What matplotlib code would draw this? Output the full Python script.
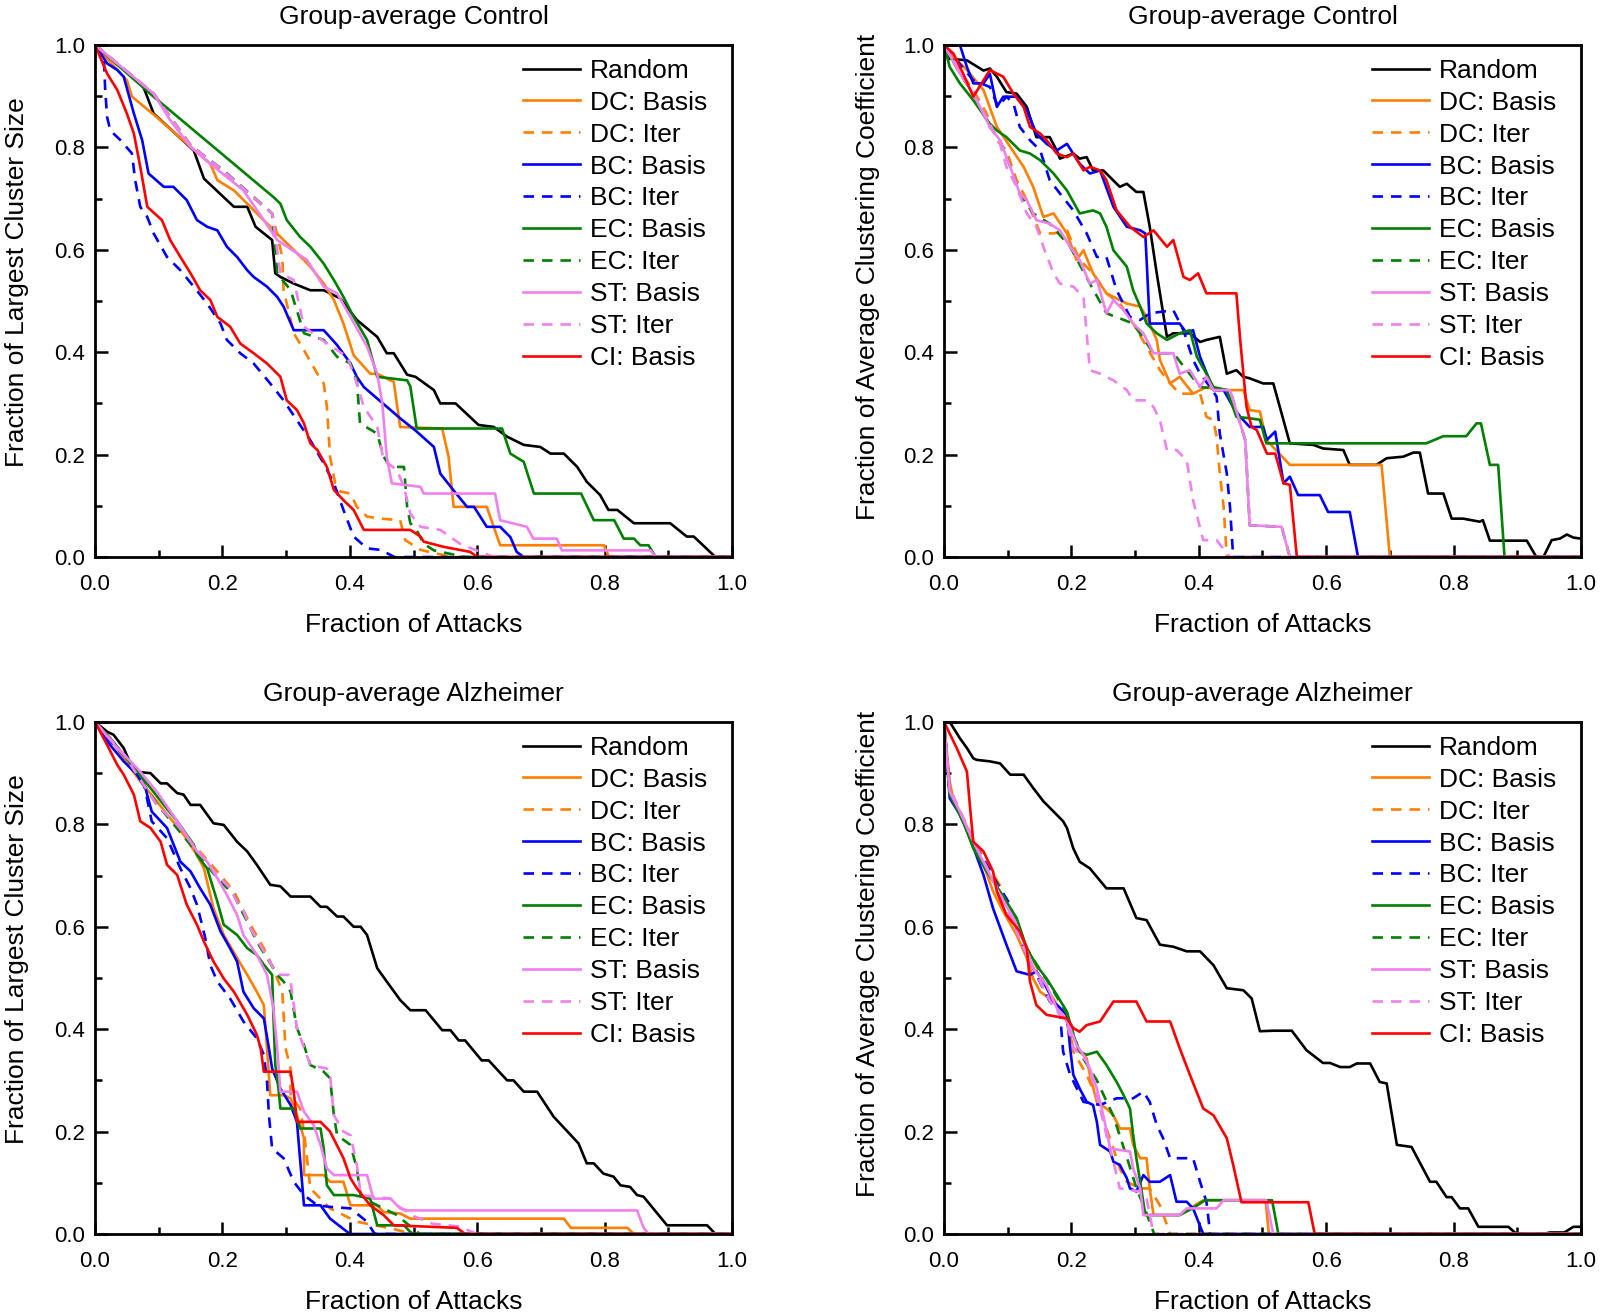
import matplotlib
matplotlib.use('Agg')
import matplotlib.pyplot as plt
from matplotlib.ticker import MultipleLocator, FormatStrFormatter

plt.rcParams['font.family'] = ['Liberation Sans', 'DejaVu Sans']

# legend entries (plot order)
labels = ['Random', 'DC: Basis', 'DC: Iter', 'BC: Basis', 'BC: Iter',
          'EC: Basis', 'EC: Iter', 'ST: Basis', 'ST: Iter', 'CI: Basis']
colors = ['black', '#FF7F00', '#FF7F00', '#0000FF', '#0000FF',
          '#008000', '#008000', '#F080F0', '#F080F0', '#FF0000']
dashed = [False, False, True, False, True, False, True, False, True, False]

titles = ['Group-average Control', 'Group-average Control',
          'Group-average Alzheimer', 'Group-average Alzheimer']
ylabels = ['Fraction of Largest Cluster Size', 'Fraction of Average Clustering Coefficient',
           'Fraction of Largest Cluster Size', 'Fraction of Average Clustering Coefficient']
xlabel = 'Fraction of Attacks'

# ---------------- Control, largest cluster size ----------------
ctrl_lcs_random = [(0, 1), (0.076, 0.918), (0.092, 0.866), (0.155, 0.794), (0.171, 0.739), (0.218, 0.684),
                   (0.239, 0.684), (0.252, 0.645), (0.278, 0.619), (0.283, 0.554), (0.291, 0.547),
                   (0.312, 0.534), (0.338, 0.521), (0.359, 0.521), (0.385, 0.505), (0.411, 0.463),
                   (0.443, 0.430), (0.458, 0.398), (0.469, 0.398), (0.490, 0.356), (0.503, 0.352),
                   (0.532, 0.326), (0.542, 0.300), (0.566, 0.300), (0.602, 0.258), (0.626, 0.254),
                   (0.647, 0.235), (0.673, 0.219), (0.699, 0.215), (0.715, 0.202), (0.736, 0.202),
                   (0.757, 0.176), (0.772, 0.147), (0.793, 0.121), (0.806, 0.092), (0.820, 0.092),
                   (0.846, 0.066), (0.903, 0.066), (0.929, 0.040), (0.940, 0.040), (0.974, 0.0), (1, 0)]
ctrl_lcs_dc_basis = [(0, 1), (0.050, 0.931), (0.058, 0.899), (0.097, 0.859), (0.150, 0.801), (0.181, 0.768),
                     (0.192, 0.736), (0.218, 0.716), (0.239, 0.690), (0.275, 0.645), (0.296, 0.619),
                     (0.328, 0.580), (0.338, 0.567), (0.359, 0.534), (0.375, 0.502), (0.390, 0.456),
                     (0.406, 0.394), (0.432, 0.358), (0.443, 0.358), (0.469, 0.342), (0.479, 0.254),
                     (0.545, 0.251), (0.555, 0.196), (0.563, 0.098), (0.615, 0.098), (0.636, 0.023),
                     (0.799, 0.023), (0.807, 0.0), (1, 0)]
ctrl_lcs_dc_iter = [(0, 1), (0.092, 0.905), (0.150, 0.805), (0.200, 0.755), (0.250, 0.700), (0.278, 0.671),
                    (0.294, 0.586), (0.296, 0.521), (0.312, 0.437), (0.328, 0.404), (0.349, 0.358),
                    (0.359, 0.339), (0.364, 0.293), (0.369, 0.196), (0.377, 0.144), (0.385, 0.128),
                    (0.401, 0.124), (0.411, 0.098), (0.427, 0.079), (0.448, 0.075), (0.479, 0.072),
                    (0.487, 0.033), (0.511, 0.014), (0.560, 0.0), (1, 0)]
ctrl_lcs_bc_basis = [(0, 1), (0.019, 0.964), (0.035, 0.951), (0.045, 0.938), (0.061, 0.866), (0.074, 0.814),
                     (0.084, 0.749), (0.108, 0.723), (0.123, 0.723), (0.144, 0.697), (0.160, 0.658),
                     (0.176, 0.645), (0.192, 0.638), (0.207, 0.606), (0.223, 0.586), (0.239, 0.560),
                     (0.249, 0.547), (0.270, 0.528), (0.286, 0.508), (0.296, 0.489), (0.312, 0.443),
                     (0.359, 0.443), (0.380, 0.414), (0.401, 0.378), (0.411, 0.352), (0.422, 0.332),
                     (0.479, 0.271), (0.505, 0.245), (0.532, 0.215), (0.542, 0.163), (0.563, 0.130),
                     (0.584, 0.098), (0.595, 0.098), (0.615, 0.059), (0.636, 0.059), (0.652, 0.039),
                     (0.662, 0.010), (0.673, 0.0), (1, 0)]
ctrl_lcs_bc_iter = [(0, 1), (0.014, 0.970), (0.016, 0.911), (0.019, 0.859), (0.024, 0.833), (0.040, 0.814),
                    (0.058, 0.788), (0.063, 0.736), (0.071, 0.684), (0.082, 0.664), (0.092, 0.632),
                    (0.113, 0.586), (0.134, 0.560), (0.155, 0.528), (0.176, 0.495), (0.197, 0.456),
                    (0.207, 0.424), (0.228, 0.398), (0.249, 0.378), (0.275, 0.339), (0.296, 0.306),
                    (0.317, 0.267), (0.338, 0.228), (0.359, 0.183), (0.375, 0.144), (0.390, 0.092),
                    (0.406, 0.040), (0.427, 0.017), (0.448, 0.014), (0.464, 0.004), (0.470, 0.0), (1, 0)]
ctrl_lcs_ec_basis = [(0, 1), (0.092, 0.899), (0.280, 0.703), (0.291, 0.690), (0.301, 0.658), (0.322, 0.625),
                     (0.338, 0.606), (0.359, 0.573), (0.375, 0.541), (0.390, 0.508), (0.406, 0.469),
                     (0.427, 0.424), (0.443, 0.352), (0.490, 0.345), (0.495, 0.333), (0.505, 0.251),
                     (0.639, 0.251), (0.652, 0.202), (0.673, 0.186), (0.689, 0.124), (0.763, 0.124),
                     (0.783, 0.072), (0.815, 0.072), (0.830, 0.036), (0.846, 0.036), (0.856, 0.023),
                     (0.869, 0.023), (0.880, 0.0), (1, 0)]
ctrl_lcs_ec_iter = [(0, 1), (0.092, 0.905), (0.150, 0.803), (0.200, 0.757), (0.250, 0.702), (0.278, 0.671),
                    (0.286, 0.554), (0.307, 0.521), (0.328, 0.437), (0.359, 0.424), (0.380, 0.391),
                    (0.401, 0.378), (0.411, 0.345), (0.416, 0.261), (0.443, 0.241), (0.453, 0.196),
                    (0.464, 0.176), (0.485, 0.176), (0.490, 0.098), (0.495, 0.066), (0.505, 0.052),
                    (0.516, 0.026), (0.532, 0.013), (0.581, 0.0), (1, 0)]
ctrl_lcs_st_basis = [(0, 1), (0.092, 0.905), (0.118, 0.853), (0.150, 0.801), (0.181, 0.768), (0.233, 0.716),
                     (0.265, 0.658), (0.286, 0.619), (0.333, 0.580), (0.359, 0.528), (0.380, 0.515),
                     (0.401, 0.469), (0.427, 0.411), (0.443, 0.358), (0.451, 0.300), (0.458, 0.196),
                     (0.466, 0.144), (0.511, 0.137), (0.516, 0.124), (0.628, 0.124), (0.636, 0.072),
                     (0.678, 0.059), (0.688, 0.036), (0.725, 0.036), (0.733, 0.013), (0.872, 0.013),
                     (0.880, 0.0), (1, 0)]
ctrl_lcs_st_iter = [(0, 1), (0.092, 0.905), (0.150, 0.804), (0.200, 0.756), (0.250, 0.701), (0.278, 0.671),
                    (0.291, 0.554), (0.312, 0.541), (0.328, 0.450), (0.349, 0.430), (0.380, 0.404),
                    (0.396, 0.391), (0.411, 0.339), (0.422, 0.293), (0.443, 0.254), (0.453, 0.189),
                    (0.474, 0.170), (0.485, 0.137), (0.495, 0.085), (0.511, 0.059), (0.542, 0.053),
                    (0.573, 0.026), (0.599, 0.013), (0.626, 0.0), (1, 0)]
ctrl_lcs_ci_basis = [(0, 1), (0.019, 0.944), (0.035, 0.912), (0.050, 0.866), (0.061, 0.827), (0.071, 0.762),
                     (0.082, 0.684), (0.105, 0.658), (0.118, 0.619), (0.134, 0.586), (0.150, 0.554),
                     (0.165, 0.521), (0.181, 0.502), (0.192, 0.469), (0.212, 0.450), (0.228, 0.417),
                     (0.249, 0.398), (0.270, 0.378), (0.291, 0.352), (0.301, 0.306), (0.317, 0.287),
                     (0.328, 0.261), (0.338, 0.222), (0.349, 0.209), (0.364, 0.176), (0.375, 0.131),
                     (0.390, 0.111), (0.406, 0.092), (0.422, 0.053), (0.495, 0.053), (0.511, 0.040),
                     (0.516, 0.030), (0.547, 0.020), (0.589, 0.010), (0.600, 0.0), (1, 0)]

# ---------------- Control, average clustering coefficient ----------------
ctrl_acc_random = [(0, 1), (0.009, 0.973), (0.036, 0.970), (0.062, 0.950), (0.072, 0.954), (0.083, 0.938),
                   (0.098, 0.908), (0.114, 0.905), (0.130, 0.879), (0.145, 0.820), (0.166, 0.820),
                   (0.177, 0.794), (0.182, 0.778), (0.203, 0.788), (0.213, 0.778), (0.224, 0.781),
                   (0.234, 0.755), (0.250, 0.755), (0.276, 0.723), (0.287, 0.729), (0.302, 0.713),
                   (0.313, 0.713), (0.323, 0.645), (0.334, 0.554), (0.350, 0.430), (0.360, 0.437),
                   (0.386, 0.437), (0.402, 0.420), (0.412, 0.424), (0.433, 0.430), (0.444, 0.358),
                   (0.459, 0.365), (0.470, 0.352), (0.480, 0.349), (0.501, 0.339), (0.517, 0.339),
                   (0.543, 0.222), (0.580, 0.219), (0.595, 0.212), (0.627, 0.209), (0.637, 0.180),
                   (0.679, 0.180), (0.695, 0.193), (0.721, 0.196), (0.737, 0.204), (0.747, 0.204),
                   (0.760, 0.124), (0.784, 0.124), (0.797, 0.075), (0.815, 0.075), (0.841, 0.069),
                   (0.846, 0.072), (0.857, 0.032), (0.915, 0.032), (0.930, 0.0), (0.941, 0.0),
                   (0.954, 0.033), (0.967, 0.036), (0.978, 0.044), (0.988, 0.038), (1.0, 0.036)]
ctrl_acc_dc_basis = [(0, 1), (0.015, 0.977), (0.036, 0.951), (0.062, 0.912), (0.083, 0.840), (0.104, 0.801),
                     (0.125, 0.762), (0.140, 0.723), (0.156, 0.664), (0.172, 0.671), (0.193, 0.632),
                     (0.208, 0.580), (0.219, 0.599), (0.234, 0.554), (0.255, 0.515), (0.287, 0.495),
                     (0.308, 0.489), (0.318, 0.469), (0.334, 0.424), (0.339, 0.385), (0.355, 0.339),
                     (0.370, 0.352), (0.391, 0.319), (0.412, 0.332), (0.428, 0.326), (0.470, 0.326),
                     (0.480, 0.287), (0.496, 0.284), (0.506, 0.229), (0.543, 0.180), (0.687, 0.180),
                     (0.700, 0.0), (1, 0)]
ctrl_acc_dc_iter = [(0, 1), (0.020, 0.957), (0.046, 0.912), (0.067, 0.866), (0.083, 0.814), (0.098, 0.794),
                    (0.114, 0.736), (0.130, 0.697), (0.151, 0.632), (0.172, 0.632), (0.193, 0.638),
                    (0.213, 0.580), (0.234, 0.554), (0.255, 0.515), (0.276, 0.495), (0.297, 0.456),
                    (0.318, 0.411), (0.339, 0.365), (0.355, 0.339), (0.370, 0.319), (0.402, 0.319),
                    (0.412, 0.274), (0.423, 0.267), (0.428, 0.235), (0.433, 0.163), (0.439, 0.098),
                    (0.444, 0.0), (1, 0)]
ctrl_acc_bc_basis = [(0, 1), (0.025, 1.0), (0.036, 0.957), (0.046, 0.925), (0.062, 0.925), (0.072, 0.944),
                     (0.083, 0.879), (0.093, 0.899), (0.114, 0.899), (0.130, 0.872), (0.145, 0.827),
                     (0.161, 0.807), (0.177, 0.794), (0.193, 0.807), (0.213, 0.768), (0.229, 0.749),
                     (0.245, 0.755), (0.266, 0.684), (0.287, 0.645), (0.308, 0.638), (0.316, 0.632),
                     (0.323, 0.456), (0.370, 0.456), (0.381, 0.437), (0.391, 0.443), (0.402, 0.391),
                     (0.423, 0.326), (0.439, 0.326), (0.454, 0.293), (0.465, 0.274), (0.480, 0.254),
                     (0.501, 0.254), (0.507, 0.229), (0.520, 0.245), (0.533, 0.144), (0.543, 0.157),
                     (0.556, 0.121), (0.590, 0.121), (0.603, 0.088), (0.637, 0.088), (0.650, 0.0), (1, 0)]
ctrl_acc_bc_iter = [(0, 1), (0.020, 0.970), (0.046, 0.931), (0.072, 0.918), (0.085, 0.879), (0.098, 0.899),
                    (0.109, 0.886), (0.119, 0.840), (0.135, 0.814), (0.151, 0.794), (0.166, 0.736),
                    (0.182, 0.710), (0.203, 0.677), (0.224, 0.632), (0.240, 0.586), (0.255, 0.586),
                    (0.271, 0.521), (0.292, 0.469), (0.308, 0.463), (0.323, 0.476), (0.360, 0.482),
                    (0.376, 0.443), (0.391, 0.385), (0.402, 0.358), (0.418, 0.332), (0.428, 0.313),
                    (0.433, 0.241), (0.444, 0.163), (0.449, 0.098), (0.454, 0.0), (1, 0)]
ctrl_acc_ec_basis = [(0, 1), (0.009, 0.957), (0.025, 0.925), (0.046, 0.892), (0.072, 0.846), (0.083, 0.833),
                     (0.098, 0.820), (0.119, 0.794), (0.135, 0.788), (0.151, 0.775), (0.172, 0.749),
                     (0.193, 0.716), (0.213, 0.671), (0.234, 0.677), (0.245, 0.671), (0.255, 0.645),
                     (0.266, 0.599), (0.287, 0.567), (0.297, 0.521), (0.308, 0.489), (0.318, 0.456),
                     (0.334, 0.437), (0.350, 0.424), (0.370, 0.437), (0.386, 0.443), (0.397, 0.391),
                     (0.412, 0.358), (0.423, 0.332), (0.444, 0.326), (0.459, 0.274), (0.480, 0.271),
                     (0.496, 0.268), (0.506, 0.222), (0.757, 0.222), (0.784, 0.236), (0.820, 0.236),
                     (0.836, 0.261), (0.843, 0.261), (0.857, 0.180), (0.870, 0.180), (0.880, 0.0), (1, 0)]
ctrl_acc_ec_iter = [(0, 1), (0.025, 0.944), (0.046, 0.905), (0.072, 0.840), (0.088, 0.814), (0.104, 0.762),
                    (0.119, 0.710), (0.140, 0.671), (0.166, 0.651), (0.198, 0.606), (0.229, 0.534),
                    (0.255, 0.476), (0.297, 0.456), (0.329, 0.398), (0.360, 0.398), (0.402, 0.332),
                    (0.449, 0.326), (0.473, 0.228), (0.480, 0.062), (0.530, 0.059), (0.543, 0.0), (1, 0)]
ctrl_acc_st_basis = [(0, 1), (0.025, 0.944), (0.046, 0.905), (0.072, 0.840), (0.088, 0.814), (0.104, 0.762),
                     (0.119, 0.710), (0.130, 0.697), (0.140, 0.671), (0.145, 0.658), (0.166, 0.651),
                     (0.182, 0.638), (0.198, 0.606), (0.213, 0.580), (0.229, 0.534), (0.240, 0.541),
                     (0.255, 0.476), (0.266, 0.502), (0.282, 0.482), (0.297, 0.456), (0.313, 0.437),
                     (0.329, 0.398), (0.360, 0.398), (0.370, 0.358), (0.386, 0.365), (0.402, 0.332),
                     (0.412, 0.352), (0.423, 0.326), (0.449, 0.326), (0.465, 0.261), (0.473, 0.228),
                     (0.480, 0.062), (0.530, 0.059), (0.543, 0.0), (1, 0)]
ctrl_acc_st_iter = [(0, 1), (0.046, 0.905), (0.072, 0.846), (0.088, 0.807), (0.098, 0.762), (0.114, 0.723),
                    (0.130, 0.671), (0.145, 0.645), (0.156, 0.606), (0.172, 0.554), (0.182, 0.534),
                    (0.203, 0.528), (0.219, 0.508), (0.224, 0.437), (0.229, 0.365), (0.245, 0.358),
                    (0.266, 0.345), (0.287, 0.326), (0.297, 0.306), (0.318, 0.306), (0.329, 0.293),
                    (0.339, 0.267), (0.350, 0.209), (0.365, 0.209), (0.381, 0.189), (0.391, 0.111),
                    (0.407, 0.033), (0.428, 0.033), (0.444, 0.007), (0.449, 0.0), (1, 0)]
ctrl_acc_ci_basis = [(0, 1), (0.015, 0.983), (0.030, 0.944), (0.046, 0.899), (0.072, 0.951), (0.093, 0.938),
                     (0.109, 0.905), (0.125, 0.879), (0.135, 0.840), (0.151, 0.827), (0.161, 0.814),
                     (0.177, 0.788), (0.193, 0.781), (0.203, 0.788), (0.219, 0.755), (0.229, 0.762),
                     (0.245, 0.755), (0.255, 0.736), (0.271, 0.677), (0.292, 0.645), (0.313, 0.625),
                     (0.329, 0.638), (0.350, 0.606), (0.360, 0.619), (0.376, 0.547), (0.386, 0.541),
                     (0.399, 0.554), (0.412, 0.515), (0.459, 0.515), (0.465, 0.424), (0.475, 0.293),
                     (0.483, 0.254), (0.491, 0.248), (0.507, 0.202), (0.520, 0.202), (0.533, 0.144),
                     (0.543, 0.141), (0.554, 0.0), (1, 0)]

# ---------------- Alzheimer, largest cluster size ----------------
alz_lcs_random = [(0, 1), (0.019, 0.981), (0.029, 0.975), (0.045, 0.949), (0.061, 0.903), (0.087, 0.900),
                  (0.103, 0.880), (0.113, 0.880), (0.129, 0.861), (0.139, 0.858), (0.150, 0.838),
                  (0.165, 0.838), (0.186, 0.802), (0.202, 0.799), (0.223, 0.766), (0.239, 0.747),
                  (0.254, 0.721), (0.275, 0.682), (0.291, 0.679), (0.307, 0.659), (0.338, 0.659),
                  (0.354, 0.639), (0.364, 0.639), (0.380, 0.620), (0.390, 0.620), (0.406, 0.600),
                  (0.417, 0.600), (0.427, 0.584), (0.443, 0.519), (0.458, 0.493), (0.479, 0.457),
                  (0.495, 0.437), (0.519, 0.437), (0.545, 0.398), (0.558, 0.398), (0.571, 0.378),
                  (0.581, 0.378), (0.607, 0.339), (0.618, 0.339), (0.647, 0.300), (0.657, 0.300),
                  (0.673, 0.278), (0.694, 0.278), (0.720, 0.229), (0.759, 0.177), (0.772, 0.138),
                  (0.783, 0.138), (0.798, 0.118), (0.814, 0.112), (0.825, 0.095), (0.840, 0.092),
                  (0.851, 0.076), (0.861, 0.073), (0.898, 0.017), (0.961, 0.017), (0.974, 0.0), (1, 0)]
alz_lcs_dc_basis = [(0, 1), (0.024, 0.968), (0.045, 0.929), (0.071, 0.884), (0.097, 0.845), (0.118, 0.812),
                    (0.139, 0.780), (0.160, 0.740), (0.171, 0.714), (0.186, 0.636), (0.202, 0.584),
                    (0.223, 0.539), (0.239, 0.506), (0.254, 0.473), (0.265, 0.447), (0.270, 0.363),
                    (0.275, 0.271), (0.296, 0.271), (0.307, 0.265), (0.317, 0.232), (0.328, 0.187),
                    (0.328, 0.115), (0.359, 0.115), (0.369, 0.102), (0.390, 0.102), (0.401, 0.056),
                    (0.443, 0.056), (0.453, 0.043), (0.479, 0.040), (0.495, 0.030), (0.736, 0.030),
                    (0.747, 0.012), (0.836, 0.012), (0.846, 0.0), (1, 0)]
alz_lcs_dc_iter = [(0, 1), (0.045, 0.936), (0.097, 0.838), (0.129, 0.799), (0.160, 0.753), (0.192, 0.708),
                   (0.218, 0.669), (0.244, 0.604), (0.265, 0.558), (0.280, 0.519), (0.286, 0.499),
                   (0.294, 0.473), (0.299, 0.363), (0.307, 0.323), (0.307, 0.271), (0.322, 0.245),
                   (0.328, 0.200), (0.338, 0.089), (0.369, 0.050), (0.411, 0.024), (0.464, 0.011),
                   (0.500, 0.0), (1, 0)]
alz_lcs_bc_basis = [(0, 1), (0.019, 0.962), (0.045, 0.923), (0.066, 0.897), (0.079, 0.871), (0.089, 0.825),
                    (0.113, 0.793), (0.134, 0.727), (0.150, 0.708), (0.165, 0.675), (0.181, 0.643),
                    (0.197, 0.591), (0.212, 0.558), (0.223, 0.532), (0.233, 0.473), (0.249, 0.441),
                    (0.265, 0.421), (0.273, 0.363), (0.278, 0.323), (0.291, 0.284), (0.307, 0.252),
                    (0.317, 0.219), (0.328, 0.056), (0.354, 0.056), (0.369, 0.030), (0.396, 0.004),
                    (0.401, 0.0), (1, 0)]
alz_lcs_bc_iter = [(0, 1), (0.024, 0.962), (0.055, 0.923), (0.076, 0.884), (0.089, 0.806), (0.113, 0.773),
                   (0.134, 0.714), (0.150, 0.675), (0.160, 0.643), (0.168, 0.604), (0.173, 0.578),
                   (0.181, 0.525), (0.192, 0.493), (0.212, 0.460), (0.233, 0.415), (0.254, 0.382),
                   (0.265, 0.350), (0.270, 0.297), (0.273, 0.232), (0.278, 0.167), (0.296, 0.148),
                   (0.312, 0.102), (0.328, 0.076), (0.349, 0.056), (0.369, 0.053), (0.401, 0.050),
                   (0.427, 0.024), (0.437, 0.004), (0.440, 0.0), (1, 0)]
alz_lcs_ec_basis = [(0, 1), (0.024, 0.968), (0.045, 0.936), (0.066, 0.903), (0.087, 0.871), (0.108, 0.838),
                    (0.129, 0.806), (0.155, 0.760), (0.160, 0.740), (0.176, 0.714), (0.192, 0.649),
                    (0.202, 0.604), (0.223, 0.584), (0.239, 0.558), (0.254, 0.545), (0.265, 0.526),
                    (0.278, 0.506), (0.280, 0.428), (0.283, 0.330), (0.288, 0.284), (0.291, 0.245),
                    (0.312, 0.245), (0.322, 0.206), (0.354, 0.206), (0.359, 0.167), (0.364, 0.095),
                    (0.375, 0.076), (0.406, 0.076), (0.432, 0.069), (0.443, 0.017), (0.485, 0.017),
                    (0.495, 0.004), (0.500, 0.0), (1, 0)]
alz_lcs_ec_iter = [(0, 1), (0.045, 0.936), (0.097, 0.840), (0.150, 0.760), (0.171, 0.727), (0.192, 0.695),
                   (0.218, 0.662), (0.228, 0.636), (0.239, 0.610), (0.254, 0.571), (0.270, 0.539),
                   (0.286, 0.506), (0.296, 0.493), (0.307, 0.473), (0.317, 0.402), (0.328, 0.369),
                   (0.338, 0.330), (0.359, 0.317), (0.369, 0.304), (0.375, 0.232), (0.380, 0.193),
                   (0.401, 0.174), (0.411, 0.128), (0.417, 0.076), (0.432, 0.063), (0.464, 0.043),
                   (0.474, 0.037), (0.490, 0.020), (0.510, 0.0), (1, 0)]
alz_lcs_st_basis = [(0, 1), (0.035, 0.949), (0.066, 0.910), (0.097, 0.864), (0.129, 0.806), (0.160, 0.747),
                    (0.176, 0.727), (0.192, 0.695), (0.207, 0.662), (0.223, 0.623), (0.233, 0.584),
                    (0.254, 0.545), (0.270, 0.506), (0.280, 0.441), (0.286, 0.363), (0.291, 0.278),
                    (0.317, 0.278), (0.328, 0.239), (0.343, 0.213), (0.354, 0.174), (0.364, 0.128),
                    (0.375, 0.115), (0.427, 0.115), (0.437, 0.069), (0.464, 0.069), (0.479, 0.050),
                    (0.490, 0.046), (0.851, 0.046), (0.861, 0.013), (0.869, 0.0), (1, 0)]
alz_lcs_st_iter = [(0, 1), (0.045, 0.937), (0.097, 0.838), (0.129, 0.799), (0.150, 0.766), (0.171, 0.734),
                   (0.192, 0.701), (0.212, 0.675), (0.223, 0.649), (0.233, 0.630), (0.244, 0.597),
                   (0.265, 0.552), (0.280, 0.519), (0.291, 0.506), (0.304, 0.506), (0.307, 0.493),
                   (0.317, 0.402), (0.338, 0.330), (0.364, 0.323), (0.369, 0.310), (0.375, 0.232),
                   (0.390, 0.200), (0.401, 0.193), (0.411, 0.135), (0.417, 0.076), (0.464, 0.069),
                   (0.474, 0.056), (0.500, 0.035), (0.530, 0.020), (0.570, 0.015), (0.600, 0.0), (1, 0)]
alz_lcs_ci_basis = [(0, 1), (0.019, 0.955), (0.035, 0.916), (0.045, 0.897), (0.061, 0.858), (0.071, 0.806),
                    (0.087, 0.793), (0.103, 0.766), (0.113, 0.721), (0.129, 0.701), (0.144, 0.643),
                    (0.160, 0.604), (0.171, 0.571), (0.186, 0.532), (0.202, 0.499), (0.218, 0.473),
                    (0.239, 0.428), (0.254, 0.389), (0.260, 0.363), (0.265, 0.317), (0.307, 0.317),
                    (0.312, 0.278), (0.317, 0.219), (0.354, 0.219), (0.369, 0.200), (0.390, 0.148),
                    (0.401, 0.109), (0.411, 0.089), (0.432, 0.056), (0.453, 0.037), (0.469, 0.017),
                    (0.568, 0.012), (0.581, 0.0), (1, 0)]

# ---------------- Alzheimer, average clustering coefficient ----------------
alz_acc_random = [(0, 1), (0.009, 1.0), (0.025, 0.968), (0.036, 0.949), (0.046, 0.929), (0.051, 0.926),
                  (0.072, 0.923), (0.088, 0.919), (0.104, 0.897), (0.125, 0.897), (0.140, 0.871),
                  (0.156, 0.845), (0.172, 0.825), (0.187, 0.806), (0.193, 0.793), (0.203, 0.753),
                  (0.213, 0.727), (0.229, 0.714), (0.255, 0.675), (0.282, 0.675), (0.302, 0.617),
                  (0.318, 0.613), (0.339, 0.565), (0.360, 0.561), (0.381, 0.552), (0.402, 0.552),
                  (0.423, 0.525), (0.444, 0.480), (0.470, 0.476), (0.483, 0.460), (0.496, 0.396),
                  (0.517, 0.397), (0.546, 0.397), (0.569, 0.359), (0.595, 0.334), (0.606, 0.334),
                  (0.622, 0.326), (0.637, 0.326), (0.648, 0.333), (0.669, 0.333), (0.684, 0.297),
                  (0.695, 0.294), (0.711, 0.174), (0.734, 0.170), (0.763, 0.102), (0.773, 0.102),
                  (0.789, 0.072), (0.797, 0.072), (0.810, 0.050), (0.823, 0.050), (0.839, 0.014),
                  (0.886, 0.014), (0.899, 0.0), (0.941, 0.0), (0.951, 0.003), (0.974, 0.003),
                  (0.988, 0.014), (1.0, 0.014)]
alz_acc_dc_basis = [(0, 1), (0.009, 0.884), (0.015, 0.845), (0.030, 0.812), (0.046, 0.766), (0.062, 0.721),
                    (0.077, 0.669), (0.093, 0.630), (0.114, 0.584), (0.130, 0.539), (0.140, 0.499),
                    (0.151, 0.473), (0.166, 0.460), (0.182, 0.441), (0.193, 0.415), (0.203, 0.363),
                    (0.213, 0.356), (0.224, 0.343), (0.229, 0.311), (0.240, 0.258), (0.255, 0.245),
                    (0.266, 0.232), (0.276, 0.206), (0.292, 0.206), (0.297, 0.174), (0.308, 0.148),
                    (0.318, 0.148), (0.323, 0.089), (0.329, 0.037), (0.370, 0.037), (0.386, 0.050),
                    (0.407, 0.066), (0.505, 0.066), (0.510, 0.0), (1, 0)]
alz_acc_dc_iter = [(0, 1), (0.009, 0.870), (0.046, 0.770), (0.088, 0.680), (0.130, 0.560), (0.166, 0.470),
                   (0.193, 0.420), (0.203, 0.356), (0.224, 0.311), (0.240, 0.265), (0.255, 0.206),
                   (0.266, 0.167), (0.276, 0.128), (0.287, 0.102), (0.308, 0.089), (0.323, 0.089),
                   (0.339, 0.056), (0.355, 0.0), (1, 0)]
alz_acc_bc_basis = [(0, 1), (0.009, 0.851), (0.025, 0.819), (0.041, 0.773), (0.062, 0.701), (0.077, 0.636),
                    (0.098, 0.565), (0.114, 0.513), (0.135, 0.506), (0.145, 0.513), (0.156, 0.493),
                    (0.172, 0.454), (0.193, 0.428), (0.198, 0.363), (0.203, 0.311), (0.213, 0.284),
                    (0.224, 0.258), (0.234, 0.252), (0.240, 0.219), (0.245, 0.174), (0.261, 0.161),
                    (0.266, 0.141), (0.276, 0.135), (0.287, 0.109), (0.292, 0.089), (0.302, 0.083),
                    (0.313, 0.115), (0.323, 0.102), (0.339, 0.102), (0.355, 0.115), (0.365, 0.063),
                    (0.381, 0.063), (0.391, 0.050), (0.407, 0.0), (1, 0)]
alz_acc_bc_iter = [(0, 1), (0.009, 0.864), (0.046, 0.766), (0.088, 0.675), (0.104, 0.643), (0.114, 0.597),
                   (0.130, 0.545), (0.145, 0.506), (0.166, 0.454), (0.182, 0.434), (0.187, 0.356),
                   (0.198, 0.311), (0.219, 0.258), (0.245, 0.252), (0.271, 0.265), (0.297, 0.265),
                   (0.313, 0.278), (0.323, 0.258), (0.334, 0.213), (0.344, 0.187), (0.355, 0.148),
                   (0.391, 0.148), (0.402, 0.102), (0.412, 0.063), (0.418, 0.0), (1, 0)]
alz_acc_ec_basis = [(0, 1), (0.009, 0.858), (0.030, 0.806), (0.046, 0.753), (0.067, 0.708), (0.088, 0.669),
                    (0.114, 0.617), (0.130, 0.558), (0.145, 0.525), (0.161, 0.499), (0.177, 0.467),
                    (0.193, 0.434), (0.203, 0.389), (0.213, 0.356), (0.224, 0.350), (0.240, 0.356),
                    (0.255, 0.330), (0.271, 0.297), (0.282, 0.271), (0.292, 0.245), (0.297, 0.193),
                    (0.302, 0.148), (0.308, 0.102), (0.316, 0.037), (0.370, 0.037), (0.390, 0.050),
                    (0.410, 0.066), (0.515, 0.066), (0.525, 0.0), (1, 0)]
alz_acc_ec_iter = [(0, 1), (0.009, 0.862), (0.046, 0.760), (0.088, 0.672), (0.114, 0.612), (0.130, 0.556),
                   (0.161, 0.497), (0.193, 0.430), (0.213, 0.354), (0.240, 0.300), (0.266, 0.230),
                   (0.287, 0.150), (0.302, 0.090), (0.318, 0.040), (0.330, 0.0), (1, 0)]
alz_acc_st_basis = [(0, 1), (0.009, 0.864), (0.025, 0.825), (0.046, 0.766), (0.067, 0.714), (0.088, 0.662),
                    (0.109, 0.617), (0.125, 0.571), (0.140, 0.519), (0.161, 0.486), (0.177, 0.441),
                    (0.187, 0.428), (0.198, 0.402), (0.208, 0.369), (0.219, 0.350), (0.229, 0.323),
                    (0.240, 0.284), (0.250, 0.232), (0.261, 0.167), (0.292, 0.161), (0.297, 0.128),
                    (0.308, 0.089), (0.313, 0.037), (0.370, 0.037), (0.381, 0.050), (0.428, 0.050),
                    (0.439, 0.066), (0.506, 0.066), (0.517, 0.0), (1, 0)]
alz_acc_st_iter = [(0, 1), (0.009, 0.870), (0.046, 0.768), (0.088, 0.665), (0.130, 0.545), (0.166, 0.455),
                   (0.193, 0.410), (0.203, 0.363), (0.224, 0.337), (0.234, 0.297), (0.245, 0.245),
                   (0.255, 0.193), (0.266, 0.141), (0.276, 0.089), (0.308, 0.083), (0.318, 0.069),
                   (0.329, 0.0), (1, 0)]
alz_acc_ci_basis = [(0, 1), (0.020, 0.949), (0.036, 0.903), (0.041, 0.832), (0.046, 0.766), (0.062, 0.747),
                    (0.077, 0.708), (0.083, 0.669), (0.098, 0.623), (0.119, 0.591), (0.130, 0.558),
                    (0.135, 0.493), (0.145, 0.447), (0.161, 0.428), (0.193, 0.421), (0.203, 0.402),
                    (0.213, 0.395), (0.224, 0.408), (0.245, 0.415), (0.266, 0.454), (0.302, 0.454),
                    (0.318, 0.415), (0.355, 0.415), (0.370, 0.363), (0.386, 0.311), (0.407, 0.245),
                    (0.423, 0.232), (0.444, 0.187), (0.454, 0.135), (0.467, 0.062), (0.572, 0.062),
                    (0.582, 0.0), (1, 0)]

panels = [
    [ctrl_lcs_random, ctrl_lcs_dc_basis, ctrl_lcs_dc_iter, ctrl_lcs_bc_basis, ctrl_lcs_bc_iter,
     ctrl_lcs_ec_basis, ctrl_lcs_ec_iter, ctrl_lcs_st_basis, ctrl_lcs_st_iter, ctrl_lcs_ci_basis],
    [ctrl_acc_random, ctrl_acc_dc_basis, ctrl_acc_dc_iter, ctrl_acc_bc_basis, ctrl_acc_bc_iter,
     ctrl_acc_ec_basis, ctrl_acc_ec_iter, ctrl_acc_st_basis, ctrl_acc_st_iter, ctrl_acc_ci_basis],
    [alz_lcs_random, alz_lcs_dc_basis, alz_lcs_dc_iter, alz_lcs_bc_basis, alz_lcs_bc_iter,
     alz_lcs_ec_basis, alz_lcs_ec_iter, alz_lcs_st_basis, alz_lcs_st_iter, alz_lcs_ci_basis],
    [alz_acc_random, alz_acc_dc_basis, alz_acc_dc_iter, alz_acc_bc_basis, alz_acc_bc_iter,
     alz_acc_ec_basis, alz_acc_ec_iter, alz_acc_st_basis, alz_acc_st_iter, alz_acc_ci_basis],
]

# axes boxes in figure fractions (left, bottom, width, height)
boxes = [(0.0594, 0.5764, 0.3981, 0.3894), (0.590, 0.5764, 0.3981, 0.3894),
         (0.0594, 0.0616, 0.3981, 0.3894), (0.590, 0.0616, 0.3981, 0.3894)]
ylabel_x = [-0.103, -0.101, -0.103, -0.101]
ylabel_y = [0.537, 0.548, 0.537, 0.548]

fig = plt.figure(figsize=(16, 13.15), dpi=100)

for i, series in enumerate(panels):
    ax = fig.add_axes(boxes[i])
    for pts, lab, col, dsh in zip(series, labels, colors, dashed):
        xs = [p[0] for p in pts]
        ys = [p[1] for p in pts]
        line, = ax.plot(xs, ys, color=col, lw=1.9, label=lab)
        if dsh:
            line.set_dashes((4, 3))

    ax.set_xlim(0, 1)
    ax.set_ylim(0, 1)
    ax.xaxis.set_major_locator(MultipleLocator(0.2))
    ax.xaxis.set_minor_locator(MultipleLocator(0.1))
    ax.yaxis.set_major_locator(MultipleLocator(0.2))
    ax.yaxis.set_minor_locator(MultipleLocator(0.1))
    ax.xaxis.set_major_formatter(FormatStrFormatter('%.1f'))
    ax.yaxis.set_major_formatter(FormatStrFormatter('%.1f'))
    ax.tick_params(which='major', direction='in', length=9, width=1.8, labelsize=16)
    ax.tick_params(axis='x', which='major', pad=12)
    ax.tick_params(axis='y', which='major', pad=7)
    ax.tick_params(which='minor', direction='in', length=5, width=1.8)
    for sp in ax.spines.values():
        sp.set_linewidth(2.0)

    ax.set_title(titles[i], fontsize=19, pad=15)
    ax.set_xlabel(xlabel, fontsize=19, labelpad=13)
    ax.set_ylabel(ylabels[i], fontsize=19)
    ax.yaxis.set_label_coords(ylabel_x[i], ylabel_y[i])

    ax.legend(loc='upper left', bbox_to_anchor=(0.672, 0.973), frameon=False, fontsize=19,
              borderpad=0, borderaxespad=0, handlelength=2.15, handletextpad=0.4, labelspacing=0.3)

fig.savefig('out.png', dpi=100)
